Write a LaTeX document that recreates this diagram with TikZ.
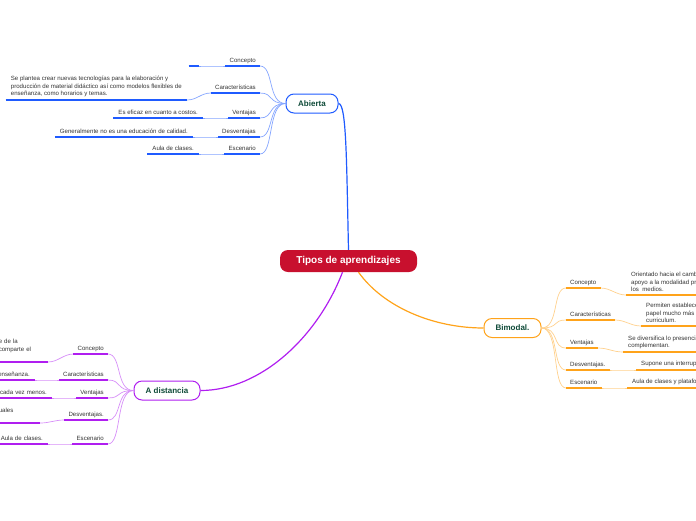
\documentclass[tikz,border=0pt]{standalone}
\usepackage{fontspec}
\setmainfont{Liberation Sans}
\definecolor{rootred}{HTML}{C8102E}
\definecolor{abblue}{HTML}{1F5BFF}
\definecolor{bmorange}{HTML}{FFA31A}
\definecolor{dspurple}{HTML}{B01EF0}
\definecolor{maintext}{HTML}{0E4A38}
\definecolor{labelgray}{HTML}{333333}

\begin{document}
\begin{tikzpicture}[x=1pt, y=-1pt,
  root/.style={fill=rootred, text=white, font=\fontsize{10}{12}\selectfont\bfseries,
    rounded corners=8pt, minimum width=137pt, minimum height=22pt, inner sep=0pt},
  main/.style={draw, fill=white, line width=1pt, rounded corners=8pt, text=maintext,
    font=\fontsize{8}{9}\selectfont\bfseries, minimum height=19pt, inner sep=0pt},
  txt/.style={text=labelgray, font=\fontsize{6.1}{7.5}\selectfont, inner ysep=1.5pt},
  label/.style={txt, inner xsep=4pt, text depth=1.5pt},
  value/.style={txt, inner xsep=5pt, inner ysep=3pt, align=left},
  trunk/.style={line width=1.2pt},
  twig/.style={line width=0.7pt},
  uline/.style={line width=1.6pt}]
  \useasboundingbox (0,0) rectangle (696,520);
  \clip (0,0) rectangle (696,520);

  \node[root] (root) at (348.5,261) {Tipos de aprendizajes};
  \node[main, draw=abblue, minimum width=52pt] (abierta) at (312,103.5) {Abierta};
  \node[main, draw=bmorange, minimum width=57pt] (bimodal) at (512.5,328) {Bimodal.};
  \node[main, draw=dspurple, minimum width=66pt] (distancia) at (167,390.5) {A distancia};

  \draw[trunk, abblue] (abierta.east) .. controls +(8,0) and +(-2,-90) .. (root.north);
  \draw[trunk, bmorange] ([xshift=10pt]root.south) .. controls +(25,35) and +(-50,0) .. (bimodal.west);
  \draw[trunk, dspurple] ([xshift=-6pt]root.south) .. controls +(-25,65) and +(60,0) .. (distancia.east);

  \node[label, anchor=south east] (ab1) at (260,66) {Concepto};
  \node[label, anchor=south east] (ab2) at (260,93) {Características};
  \node[label, anchor=south east] (ab3) at (260,118) {Ventajas};
  \node[label, anchor=south east] (ab4) at (260,137) {Desventajas};
  \node[label, anchor=south east] (ab5) at (260,154) {Escenario};
  \node[value, anchor=south east, minimum width=10pt] (ab1v) at (199,66) {};
  \node[value, anchor=south east] (ab2v) at (187,100) {Se plantea crear nuevas tecnologías para la elaboración y\\producción de material didáctico así como modelos flexibles de\\enseñanza, como horarios y temas.};
  \node[value, anchor=south east] (ab3v) at (203,118) {Es eficaz en cuanto a costos.};
  \node[value, anchor=south east] (ab4v) at (193,137) {Generalmente no es una educación de calidad.};
  \node[value, anchor=south east] (ab5v) at (199,154) {Aula de clases.};

  \node[label, anchor=south west] (bm1) at (566,288) {Concepto};
  \node[label, anchor=south west] (bm2) at (566,320) {Características};
  \node[label, anchor=south west] (bm3) at (566,348) {Ventajas};
  \node[label, anchor=south west] (bm4) at (566,370) {Desventajas.};
  \node[label, anchor=south west] (bm5) at (566,388) {Escenario};
  \node[value, anchor=south west] (bm1v) at (626,295) {Orientado hacia el cambio,\\apoyo a la modalidad presencial\\los~ medios.};
  \node[value, anchor=south west] (bm2v) at (641,326) {Permiten establecer un\\papel mucho más activo\\curriculum.};
  \node[value, anchor=south west] (bm3v) at (623,352) {Se diversifica lo presencial y\\complementan.};
  \node[value, anchor=south west] (bm4v) at (636,370) {Supone una interrupción};
  \node[value, anchor=south west] (bm5v) at (627,388) {Aula de clases y plataformas};

  \node[label, anchor=south east] (ds1) at (108,354) {Concepto};
  \node[label, anchor=south east] (ds2) at (108,380) {Características};
  \node[label, anchor=south east] (ds3) at (108,398) {Ventajas};
  \node[label, anchor=south east] (ds4) at (108,420) {Desventajas.};
  \node[label, anchor=south east] (ds5) at (108,444) {Escenario};
  \node[value, anchor=south east, text width=44pt] (ds1v) at (48,362) {e de la\\comparte el\\\mbox{}};
  \node[value, anchor=south east, text width=33pt, align=right] (ds2v) at (35,380) {enseñanza.};
  \node[value, anchor=south east, text width=50pt, align=right] (ds3v) at (52,398) {cada vez menos.};
  \node[value, anchor=south east, text width=36pt] (ds4v) at (40,423) {uales\\\mbox{}};
  \node[value, anchor=south east, text width=48pt, align=right] (ds5v) at (48,444) {Aula de clases.};

  \foreach \n in {ab1,ab2,ab3,ab4,ab5}
    \draw[twig, abblue!55] (abierta.west) .. controls +(-18,0) and +(14,0) .. (\n.south east);
  \foreach \n in {ab1,ab2,ab3,ab4,ab5}
    \draw[twig, abblue!55] (\n v.south east) .. controls +(10,0) and +(-10,0) .. (\n.south west);
  \foreach \n in {ab1,ab2,ab3,ab4,ab5,ab1v,ab2v,ab3v,ab4v,ab5v}
    \draw[uline, abblue] (\n.south west) -- (\n.south east);

  \foreach \n in {bm1,bm2,bm3,bm4,bm5}
    \draw[twig, bmorange!50] (bimodal.east) .. controls +(18,0) and +(-14,0) .. (\n.south west);
  \foreach \n in {bm1,bm2,bm3,bm4,bm5}
    \draw[twig, bmorange!50] (\n.south east) .. controls +(10,0) and +(-10,0) .. (\n v.south west);
  \foreach \n in {bm1,bm2,bm3,bm4,bm5,bm1v,bm2v,bm3v,bm4v,bm5v}
    \draw[uline, bmorange] (\n.south west) -- (\n.south east);

  \foreach \n in {ds1,ds2,ds3,ds4,ds5}
    \draw[twig, dspurple!50] (distancia.west) .. controls +(-18,0) and +(14,0) .. (\n.south east);
  \foreach \n in {ds1,ds2,ds3,ds4,ds5}
    \draw[twig, dspurple!50] (\n v.south east) .. controls +(10,0) and +(-10,0) .. (\n.south west);
  \foreach \n in {ds1,ds2,ds3,ds4,ds5,ds1v,ds2v,ds3v,ds4v,ds5v}
    \draw[uline, dspurple] (\n.south west) -- (\n.south east);
\end{tikzpicture}
\end{document}
